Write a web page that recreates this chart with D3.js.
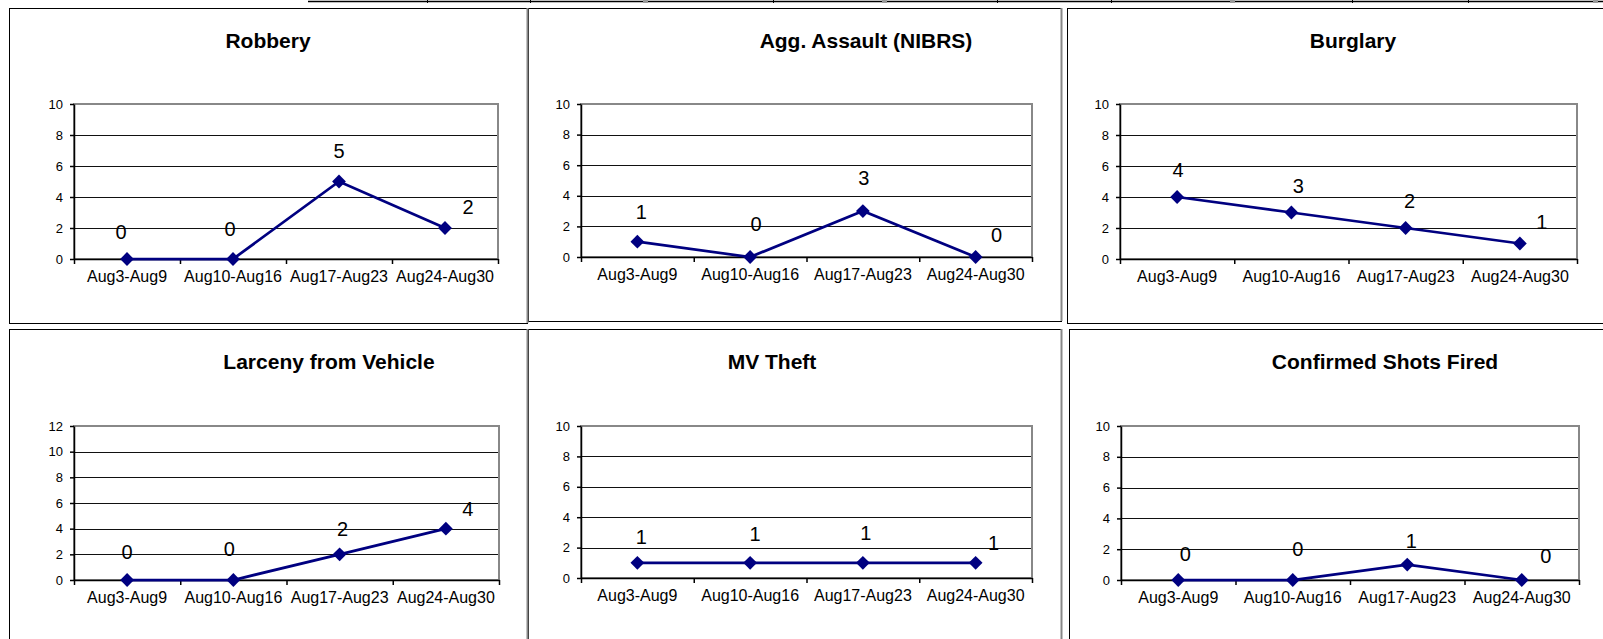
<!DOCTYPE html>
<html lang="en">
<head>
    <meta charset="UTF-8">
    <title>Weekly crime charts</title>
    <style>
        body { margin: 0; background: #fff; }
        svg { display: block; }
    </style>
</head>
<body>
    <script src="https://d3js.org/d3.v7.min.js"></script>
    <script>
        // data
        const weeks = ["Aug3-Aug9", "Aug10-Aug16", "Aug17-Aug23", "Aug24-Aug30"];
        const titles = ["Robbery", "Agg. Assault (NIBRS)", "Burglary",
                        "Larceny from Vehicle", "MV Theft", "Confirmed Shots Fired"];
        const robbery    = [0, 0, 5, 2];
        const aggAssault = [1, 0, 3, 0];
        const burglary   = [4, 3, 2, 1];
        const larceny    = [0, 0, 2, 4];
        const mvTheft    = [1, 1, 1, 1];
        const shotsFired = [0, 0, 1, 0];
        const ticks10 = [0, 2, 4, 6, 8, 10];
        const ticks12 = [0, 2, 4, 6, 8, 10, 12];

        const series = [robbery, aggAssault, burglary, larceny, mvTheft, shotsFired];
        const yTicks = [ticks10, ticks10, ticks10, ticks12, ticks10, ticks10];

        // layout of each chart box: [x0, y0, x1, y1]
        const panels = [
            { box: [9, 8, 527, 323],       plot: [74, 104, 498, 259],    titleX: 268,  titleY: 48 },
            { box: [528, 8, 1061, 321],    plot: [581, 104, 1032, 257],  titleX: 866,  titleY: 48 },
            { box: [1067, 8, 1610, 323],   plot: [1120, 104, 1577, 259], titleX: 1353, titleY: 48 },
            { box: [9, 329, 528, 700],     plot: [74, 426, 499, 580],    titleX: 329,  titleY: 369 },
            { box: [528, 329, 1061, 700],  plot: [581, 426, 1032, 578],  titleX: 772,  titleY: 369 },
            { box: [1069, 329, 1610, 700], plot: [1121, 426, 1579, 580], titleX: 1385, titleY: 369 }
        ];
        // data labels were dragged around by hand in the original, nudge [dx, dy] from the point
        const labelNudge = [
            [[-6, -27], [-3, -30], [0, -31], [23, -21]],
            [[4, -30], [6, -33], [1, -33], [21, -22]],
            [[1, -27], [7, -27], [4, -27], [22, -22]],
            [[0, -28], [-4, -31], [3, -25], [22, -20]],
            [[4, -26], [5, -29], [3, -30], [18, -20]],
            [[7, -26], [5, -31], [4, -24], [24, -24]]
        ];

        const font = "'Liberation Sans', Arial, sans-serif";
        const navy = "#000080";

        const svg = d3.select("body").append("svg")
            .attr("width", 1603)
            .attr("height", 639);

        svg.append("rect").attr("width", 1603).attr("height", 639).attr("fill", "#fff");

        // bit of the table above that is cut off at the top
        svg.append("line")
            .attr("x1", 308).attr("x2", 1603).attr("y1", 1.5).attr("y2", 1.5)
            .attr("stroke", "#000").attr("stroke-width", 1.5);
        svg.selectAll(".cellTick")
            .data([427, 530, 773, 997, 1111, 1352, 1468])
            .enter().append("line")
            .attr("x1", d => d + 0.5).attr("x2", d => d + 0.5)
            .attr("y1", 0).attr("y2", 3)
            .attr("stroke", "#000");
        svg.selectAll(".cellMark")
            .data([645, 884, 1232, 1595])
            .enter().append("rect")
            .attr("x", d => d - 2).attr("y", 0).attr("width", 5).attr("height", 3)
            .attr("fill", "#999");

        panels.forEach(function (p, i) {
            const g = svg.append("g");
            const data = series[i];

            g.append("rect")
                .attr("x", p.box[0] + 0.5).attr("y", p.box[1] + 0.5)
                .attr("width", p.box[2] - p.box[0]).attr("height", p.box[3] - p.box[1])
                .attr("fill", "none").attr("stroke", "#000");

            g.append("text")
                .attr("x", p.titleX).attr("y", p.titleY)
                .attr("text-anchor", "middle")
                .style("font-family", font)
                .style("font-size", "21px")
                .style("font-weight", "bold")
                .text(titles[i]);

            const x = d3.scaleBand().domain(weeks).range([p.plot[0], p.plot[2]]);
            const edge = d3.scaleLinear().domain([0, weeks.length]).range([p.plot[0], p.plot[2]]);
            const ticks = yTicks[i];
            const y = d3.scaleLinear().domain([0, d3.max(ticks)]).range([p.plot[3], p.plot[1]]);

            // gridlines
            g.selectAll(".grid")
                .data(ticks.slice(1, -1))
                .enter().append("line")
                .attr("x1", p.plot[0]).attr("x2", p.plot[2])
                .attr("y1", d => Math.round(y(d)) + 0.5).attr("y2", d => Math.round(y(d)) + 0.5)
                .attr("stroke", "#111");

            // plot area border
            g.append("rect")
                .attr("x", p.plot[0]).attr("y", p.plot[1])
                .attr("width", p.plot[2] - p.plot[0]).attr("height", p.plot[3] - p.plot[1])
                .attr("fill", "none").attr("stroke", "#888").attr("stroke-width", 2);

            const yAxis = g.append("g")
                .attr("transform", `translate(${p.plot[0]},0)`)
                .call(d3.axisLeft(y).tickValues(ticks).tickSize(4).tickPadding(7).tickSizeOuter(0));
            yAxis.selectAll("path,line").attr("stroke", "#000").attr("stroke-width", 1.5);
            yAxis.selectAll("text").style("font-family", font).style("font-size", "13px").attr("fill", "#000");

            const xEdges = g.append("g")
                .attr("transform", `translate(0,${p.plot[3]})`)
                .call(d3.axisBottom(edge).tickValues(d3.range(weeks.length + 1)).tickFormat("").tickSize(5).tickSizeOuter(0));
            xEdges.selectAll("path,line").attr("stroke", "#000").attr("stroke-width", 1.5);

            const xAxis = g.append("g")
                .attr("transform", `translate(0,${p.plot[3]})`)
                .call(d3.axisBottom(x).tickSize(0).tickPadding(12));
            xAxis.select(".domain").remove();
            xAxis.selectAll("text").style("font-family", font).style("font-size", "16px").attr("fill", "#000");

            const cx = (d, j) => x(weeks[j]) + x.bandwidth() / 2;

            g.append("path")
                .datum(data)
                .attr("d", d3.line().x(cx).y(d => y(d)))
                .attr("fill", "none")
                .attr("stroke", navy)
                .attr("stroke-width", 2.75);

            g.selectAll(".marker")
                .data(data)
                .enter().append("path")
                .attr("d", d3.symbol().type(d3.symbolSquare).size(95))
                .attr("transform", (d, j) => `translate(${cx(d, j)},${y(d)}) rotate(45)`)
                .attr("fill", navy);

            g.selectAll(".label")
                .data(data)
                .enter().append("text")
                .attr("x", (d, j) => cx(d, j) + labelNudge[i][j][0])
                .attr("y", (d, j) => y(d) + labelNudge[i][j][1] + 7)
                .attr("text-anchor", "middle")
                .style("font-family", font)
                .style("font-size", "20px")
                .text(d => d);
        });

        // grey cell separators between the columns
        [[527.5, 8, 323], [527.5, 329, 639], [1061.5, 8, 321], [1061.5, 329, 639]].forEach(function (s) {
            svg.append("line")
                .attr("x1", s[0]).attr("x2", s[0]).attr("y1", s[1]).attr("y2", s[2])
                .attr("stroke", "#888").attr("stroke-width", 2);
        });
    </script>
</body>
</html>
